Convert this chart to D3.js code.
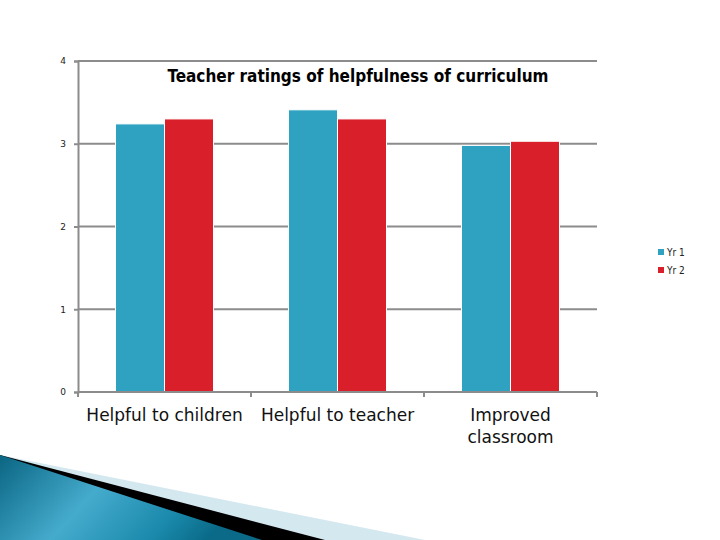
<!DOCTYPE html>
<html>
<head>
<meta charset="utf-8">
<script src="https://cdn.jsdelivr.net/npm/d3@7"></script>
<style>
  html, body { margin: 0; padding: 0; background: #fff; }
  svg { display: block; }
</style>
</head>
<body>
<svg id="chart" width="720" height="540"></svg>
<script>
// chart data
const categories = ["Helpful to children", "Helpful to teacher", "Improved classroom"];
const seriesNames = ["Yr 1", "Yr 2"];
const yr1 = [3.24, 3.41, 2.98];
const yr2 = [3.30, 3.30, 3.03];
const yTicks = [0, 1, 2, 3, 4];
const colors = ["#2ea2c0", "#d91f2a"];

const svg = d3.select("#chart");
const margin = { left: 78, right: 123, top: 61, bottom: 148 };
const width = 720 - margin.left - margin.right;
const height = 540 - margin.top - margin.bottom;

// decorative wedge in the bottom left corner
const defs = svg.append("defs");
const grad = defs.append("linearGradient")
  .attr("id", "wedge")
  .attr("x1", "0").attr("y1", "0").attr("x2", "1").attr("y2", "0.3");
grad.append("stop").attr("offset", "0%").attr("stop-color", "#0a6582");
grad.append("stop").attr("offset", "45%").attr("stop-color", "#45abcd");
grad.append("stop").attr("offset", "80%").attr("stop-color", "#1a89ab");
grad.append("stop").attr("offset", "100%").attr("stop-color", "#0a6a88");

const wedge = svg.append("g");
wedge.append("polygon").attr("points", "0,455 425,540 0,540").attr("fill", "#d4e8f0");
wedge.append("polygon").attr("points", "0,455 325,540 0,540").attr("fill", "#000");
wedge.append("polygon").attr("points", "0,455 262,540 0,540").attr("fill", "url(#wedge)");

const g = svg.append("g").attr("transform", `translate(${margin.left},${margin.top})`);

const x0 = d3.scaleBand().domain(categories).range([0, width]);
const x1 = d3.scaleBand().domain(seriesNames).range([0, x0.bandwidth()]).paddingOuter(0.765);
const y = d3.scaleLinear().domain([0, 4]).range([height, 0]);

// gridlines
g.append("g")
  .selectAll("line")
  .data(yTicks)
  .join("line")
  .attr("x1", 0)
  .attr("x2", width)
  .attr("y1", d => y(d))
  .attr("y2", d => y(d))
  .attr("stroke", "#8c8c8c")
  .attr("stroke-width", 2);

// bars
const values = [yr1, yr2];
const groups = g.append("g")
  .selectAll("g")
  .data(categories)
  .join("g")
  .attr("transform", d => `translate(${x0(d)},0)`);

groups.selectAll("rect")
  .data((d, i) => seriesNames.map((s, j) => ({ s, v: values[j][i] })))
  .join("rect")
  .attr("x", d => x1(d.s))
  .attr("width", x1.bandwidth())
  .attr("y", d => y(d.v))
  .attr("height", d => y(0) - y(d.v))
  .attr("fill", (d, j) => colors[j])
  .attr("stroke", "#fff")
  .attr("stroke-width", 1);

// y axis
const yAxis = d3.axisLeft(y).tickValues(yTicks).tickSize(4).tickPadding(8).tickFormat(d3.format("d"));
const ya = g.append("g").call(yAxis);
ya.select(".domain").attr("stroke", "#8c8c8c").attr("stroke-width", 2);
ya.selectAll(".tick line").attr("stroke", "#8c8c8c").attr("stroke-width", 2);
ya.selectAll(".tick text").attr("font-family", "DejaVu Sans").attr("font-size", 9).attr("fill", "#222");

// x axis: ticks at band edges
const xa = g.append("g").attr("transform", `translate(0,${height})`);
xa.append("line").attr("x1", 0).attr("x2", width).attr("stroke", "#8c8c8c").attr("stroke-width", 2);
xa.selectAll(".edge")
  .data(categories)
  .join("line")
  .attr("class", "edge")
  .attr("x1", d => x0(d) + x0.bandwidth())
  .attr("x2", d => x0(d) + x0.bandwidth())
  .attr("y1", 0)
  .attr("y2", 5)
  .attr("stroke", "#8c8c8c")
  .attr("stroke-width", 2);
xa.append("line").attr("x1", 0).attr("x2", 0).attr("y1", 0).attr("y2", 5)
  .attr("stroke", "#8c8c8c").attr("stroke-width", 2);

// category labels, last one wraps
const catLabels = xa.selectAll(".cat")
  .data(categories)
  .join("text")
  .attr("class", "cat")
  .attr("text-anchor", "middle")
  .attr("font-family", "DejaVu Sans")
  .attr("font-size", 17)
  .attr("fill", "#111")
  .attr("transform", d => `translate(${x0(d) + x0.bandwidth() / 2},29)`);
catLabels.each(function (d, i) {
  const lines = i === 2 ? ["Improved", "classroom"] : [d];
  d3.select(this).selectAll("tspan")
    .data(lines)
    .join("tspan")
    .attr("x", 0)
    .attr("dy", (l, k) => (k === 0 ? 0 : 22))
    .text(l => l);
});

// title
svg.append("text")
  .attr("x", 358)
  .attr("y", 82)
  .attr("text-anchor", "middle")
  .attr("font-family", "DejaVu Sans Condensed")
  .attr("font-weight", "bold")
  .attr("font-size", 17)
  .attr("fill", "#000")
  .text("Teacher ratings of helpfulness of curriculum");

// legend
const legend = svg.append("g").attr("transform", "translate(658,252)");
const li = legend.selectAll("g")
  .data(seriesNames)
  .join("g")
  .attr("transform", (d, i) => `translate(0,${i * 18})`);
li.append("rect").attr("x", 0).attr("y", -3).attr("width", 6).attr("height", 6)
  .attr("fill", (d, i) => colors[i]);
li.append("text").attr("x", 9).attr("y", 0).attr("dy", "0.35em")
  .attr("font-family", "DejaVu Sans Condensed").attr("font-size", 10).attr("fill", "#222")
  .text(d => d);
</script>
</body>
</html>
